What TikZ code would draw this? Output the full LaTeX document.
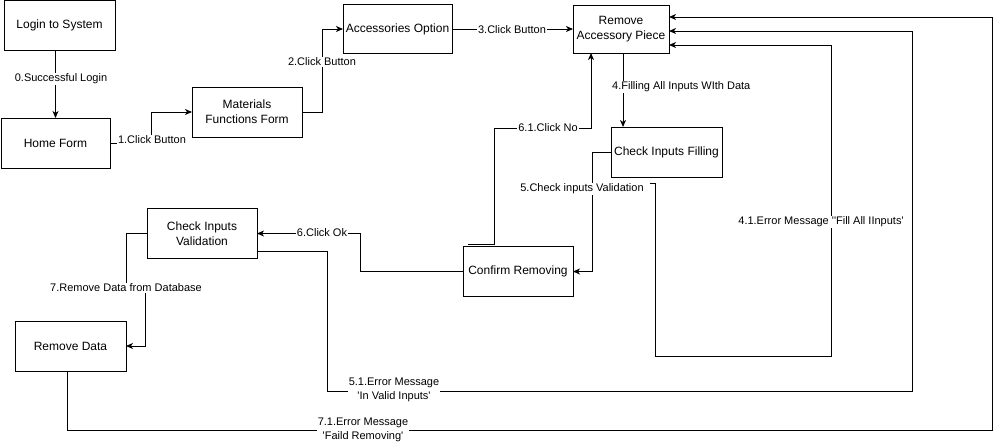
\documentclass[tikz,border=0pt]{standalone}
\usepackage{fontspec}
\setmainfont{Liberation Sans}[Ligatures=TeXOff]
\usetikzlibrary{arrows.meta,calc}
\begin{document}
\begin{tikzpicture}[x=1pt,y=-1pt,
  box/.style={draw=black,line width=1pt,fill=white,align=center,inner sep=1pt,outer sep=0pt,
    font=\fontsize{12}{15}\selectfont},
  lbl/.style={fill=white,inner sep=1pt,align=center,font=\fontsize{11}{14}\selectfont},
  conn/.style={draw=black,line width=1pt},
  arr/.style={conn,-{Stealth[length=7pt,width=6pt,inset=2pt]}}]
\useasboundingbox (0,0) rectangle (1000,442);
% nodes
\node[box,minimum width=111pt,minimum height=50pt] (login) at (59.5,25.5) {Login to System};
\node[box,minimum width=109pt,minimum height=50pt] (home) at (55.5,143) {Home Form};
\node[box,minimum width=110pt,minimum height=50pt] (mat) at (247,112) {Materials\\Functions Form};
\node[box,minimum width=109pt,minimum height=49pt] (acc) at (397.5,29) {Accessories Option};
\node[box,minimum width=96pt,minimum height=48pt] (rem) at (621,29) {Remove\\Accessory Piece};
\node[box,minimum width=111pt,minimum height=50pt] (cif) at (666.5,152) {Check Inputs Filling};
\node[box,minimum width=110pt,minimum height=50pt] (conf) at (518,271.5) {Confirm Removing};
\node[box,minimum width=110pt,minimum height=50pt] (civ) at (202,233.5) {Check Inputs\\Validation};
\node[box,minimum width=111pt,minimum height=50pt] (rdata) at (70.5,346) {Remove Data};
% helper coordinates
\coordinate (s41) at (650,183);
\coordinate (t41) at ($(rem.north east)+(0,40)$);
\coordinate (t51) at ($(rem.north east)+(0,26)$);
\coordinate (t71) at ($(rem.north east)+(0,12)$);
\coordinate (s61) at ($(conf.north west)+(5,-2.5)$);
\coordinate (t61) at ($(rem.south)+(-30,0)$);
\coordinate (s4) at ($(rem.south)+(2,0)$);
\coordinate (s51) at ($(civ.south east)+(0,-7.5)$);
\coordinate (s71) at ($(rdata.south)+(-3.5,0)$);
% connectors
\draw[arr] (login.south -| home.north) -- (home.north);
\draw[arr] (home.east) -- (151,143) -- (151,112) -- (mat.west);
\draw[arr] (mat.east) -- (322,112) -- (322,29) -- (acc.west);
\draw[arr] (acc.east) -- (rem.west);
\draw[arr] (s4) -- (s4 |- cif.north);
\draw[arr] (cif.west) -- (592,152) -- (592,271.5) -- (conf.east);
\draw[arr] (s41) -- (655,183) -- (655,356) -- (831,356) -- (831,45) -- (t41);
\draw[arr] (s61) -- (494,244) -- (494,128) -- (591,128) -- (t61);
\draw[arr] (conf.west) -- (360,271.5) -- (360,233.5) -- (civ.east);
\draw[arr] (s51) -- (327,251) -- (327,391) -- (912,391) -- (912,31) -- (t51);
\draw[arr] (civ.west) -- (126,233.5) -- (126,288) -- (145,288) -- (145,346) -- (rdata.east);
\draw[arr] (s71) -- (67,430) -- (992,430) -- (992,17) -- (t71);
% labels
\node[lbl] (l0) at (61,79) {0.Successful Login};
\node[lbl] (l1) at (152,140) {1.Click Button};
\node[lbl] (l2) at (322,62) {2.Click Button};
\node[lbl] (l3) at (512,30) {3.Click Button};
\node[lbl,anchor=west] (l4) at (611,87) {4.Filling All Inputs WIth Data};
\node[lbl] (l41) at (821,222) {4.1.Error Message ''Fill All IInputs'};
\node[lbl] (l5) at (582,189) {5.Check inputs Validation};
\node[lbl] (l51) at (394,390) {5.1.Error Message\\'In Valid Inputs'};
\node[lbl] (l6) at (322,233) {6.Click Ok};
\node[lbl] (l61) at (548,128) {6.1.Click No};
\node[lbl] (l7) at (126,288) {7.Remove Data from Database};
\node[lbl] (l71) at (363,430) {7.1.Error Message\\'Faild Removing'};
\end{tikzpicture}
\end{document}
